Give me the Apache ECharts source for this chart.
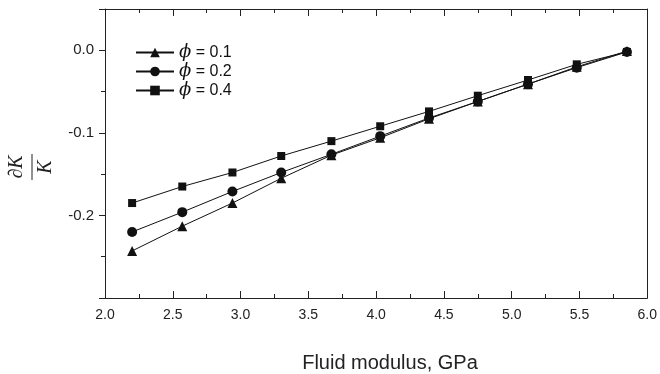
<!DOCTYPE html>
<html>
<head>
<meta charset="utf-8">
<script src="https://cdn.jsdelivr.net/npm/echarts@6/dist/echarts.min.js"></script>
<style>
  html, body { margin: 0; padding: 0; background: #fff; }
  #chart { width: 660px; height: 374px; }
</style>
</head>
<body>
<div id="chart"></div>
<script>
// fluid modulus (GPa)
const fluidModulus = [2.2, 2.57, 2.94, 3.3, 3.67, 4.03, 4.39, 4.75, 5.12, 5.48, 5.85]
// dK/K for each porosity
const phi01 = [-0.243, -0.213, -0.185, -0.155, -0.127, -0.106, -0.083, -0.062, -0.041, -0.020, -0.001]
const phi02 = [-0.220, -0.196, -0.171, -0.148, -0.126, -0.104, -0.082, -0.062, -0.041, -0.021, -0.002]
const phi04 = [-0.185, -0.165, -0.148, -0.128, -0.110, -0.092, -0.074, -0.055, -0.036, -0.017, -0.002]
const seriesNames = ['ϕ = 0.1', 'ϕ = 0.2', 'ϕ = 0.4']
const seriesSymbols = ['triangle', 'circle', 'rect']
const seriesSizes = [10, 10, 8]

const chart = echarts.init(document.getElementById('chart'))
const font = '"Liberation Sans", Arial, sans-serif'

function pairs(ys) {
  return fluidModulus.map((x, i) => [x, ys[i]])
}

// shared look of the frame axes
const axisColor = '#222'
const xCommon = {
  type: 'value',
  min: 2, max: 6, interval: 0.5,
  axisLine: { show: true, onZero: false, lineStyle: { color: axisColor, width: 1 } },
  axisTick: { inside: true, length: 7, lineStyle: { color: axisColor } },
  minorTick: { show: true, splitNumber: 2, length: 4, lineStyle: { color: axisColor } },
  splitLine: { show: false }
}

const option = {
  backgroundColor: '#fff',
  animation: false,
  grid: { left: 105, right: 10, top: 9, bottom: 76 },
  legend: {
    orient: 'vertical',
    left: 135,
    top: 43,
    padding: 0,
    itemWidth: 38,
    itemHeight: 12,
    itemGap: 0,
    data: seriesNames,
    textStyle: {
      fontFamily: font, fontSize: 16, color: '#111', lineHeight: 19,
      rich: { p: { fontFamily: '"DejaVu Serif", serif', fontStyle: 'italic', fontSize: 18, lineHeight: 19, color: '#111' } }
    },
    formatter: name => name.replace('ϕ', '{p|ϕ}')
  },
  xAxis: [{
    ...xCommon,
    position: 'bottom',
    axisLabel: { fontFamily: font, fontSize: 14, color: axisColor, margin: 10, formatter: v => v.toFixed(1) }
  }, {
    ...xCommon,
    position: 'top',
    axisLabel: { show: false }
  }],
  yAxis: [{
    type: 'value',
    min: -0.3, max: 0.05, interval: 0.1,
    axisLine: { show: true, onZero: false, lineStyle: { color: axisColor, width: 1 } },
    axisTick: { inside: false, length: 6, lineStyle: { color: axisColor } },
    minorTick: { show: true, splitNumber: 2, length: 4, lineStyle: { color: axisColor } },
    axisLabel: {
      fontFamily: font, fontSize: 15, color: axisColor, margin: 11,
      showMinLabel: false, showMaxLabel: false,
      formatter: v => v.toFixed(1)
    },
    splitLine: { show: false }
  }, {
    type: 'value',
    position: 'right',
    min: -0.3, max: 0.05,
    axisLine: { show: true, onZero: false, lineStyle: { color: axisColor, width: 1 } },
    axisTick: { show: false },
    axisLabel: { show: false },
    splitLine: { show: false }
  }],
  series: [phi01, phi02, phi04].map((ys, i) => ({
    name: seriesNames[i],
    type: 'line',
    data: pairs(ys),
    symbol: seriesSymbols[i],
    symbolSize: seriesSizes[i],
    itemStyle: { color: '#111' },
    lineStyle: { color: '#111', width: 1 },
    z: 3 - i
  })),
  graphic: [{
    type: 'group',
    x: 32, y: 167,
    rotation: Math.PI / 2,
    children: [{
      type: 'text',
      style: {
        text: '∂K', x: 0, y: -5,
        font: 'italic 20px "Liberation Serif", "DejaVu Serif", serif',
        fill: axisColor, align: 'center', verticalAlign: 'bottom'
      }
    }, {
      type: 'line',
      shape: { x1: -13, y1: 0, x2: 13, y2: 0 },
      style: { stroke: axisColor, lineWidth: 1 }
    }, {
      type: 'text',
      style: {
        text: 'K', x: 0, y: 4,
        font: 'italic 20px "Liberation Serif", "DejaVu Serif", serif',
        fill: axisColor, align: 'center', verticalAlign: 'top'
      }
    }]
  }, {
    type: 'text',
    x: 390, y: 363,
    style: {
      text: 'Fluid modulus, GPa',
      font: '20px "Liberation Sans", Arial, sans-serif',
      fill: axisColor, align: 'center', verticalAlign: 'middle'
    }
  }]
}
chart.setOption(option)
</script>
</body>
</html>
